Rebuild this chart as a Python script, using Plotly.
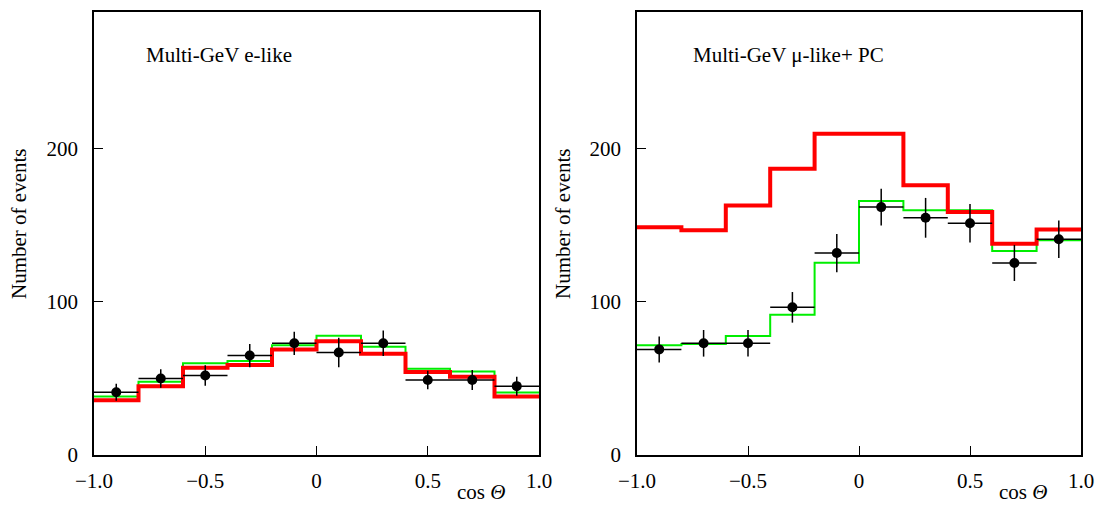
import plotly.graph_objects as go

# Zenith-angle bins (cos Theta), 10 bins from -1 to 1
bin_edges = [-1.0, -0.8, -0.6, -0.4, -0.2, 0.0, 0.2, 0.4, 0.6, 0.8, 1.0]
bin_centers = [-0.9, -0.7, -0.5, -0.3, -0.1, 0.1, 0.3, 0.5, 0.7, 0.9]
bin_half_width = 0.1

# Multi-GeV e-like
e_data = [41, 50, 52, 65, 73, 67, 73, 49, 49, 45]
e_data_err = [5.5, 6, 6.7, 7.6, 7.6, 9.6, 8.3, 6, 6.6, 6.2]
e_green = [38.2, 47.8, 60.0, 61.4, 71.7, 77.9, 70.8, 56.4, 54.5, 40.8]
e_red = [35.8, 45.0, 57.0, 58.8, 69.0, 74.3, 66.2, 54.3, 51.2, 38.2]

# Multi-GeV mu-like + PC
mu_data = [69, 73, 73, 96.5, 132, 162, 155, 151.5, 125.5, 141]
mu_data_err = [8.5, 8.7, 8.7, 10, 12.5, 12, 13, 12.6, 11.8, 12.2]
mu_green = [71.7, 72.5, 77.8, 91.7, 125.7, 166.0, 160.0, 160.0, 133.3, 140.3]
mu_red = [148.8, 146.9, 163.0, 187.0, 210.0, 210.0, 176.3, 158.8, 138.0, 147.3]

x_ticks = [-1.0, -0.5, 0.0, 0.5, 1.0]
x_tick_labels = ["\u22121.0", "\u22120.5", "0", "0.5", "1.0"]
y_ticks = [0, 100, 200]
y_tick_labels = ["0", "100", "200"]

FONT = "Liberation Serif"
FONT_SIZE = 21
GREEN = "#00ee00"
RED = "#ff0000"

fig = go.Figure()


def add_panel(fig, xref, yref, green, red, data, err):
    fig.add_trace(go.Scatter(
        x=bin_edges, y=green + [green[-1]], mode="lines", line_shape="hv",
        line=dict(color=GREEN, width=2), xaxis=xref, yaxis=yref,
        showlegend=False, hoverinfo="skip"))
    fig.add_trace(go.Scatter(
        x=bin_edges, y=red + [red[-1]], mode="lines", line_shape="hv",
        line=dict(color=RED, width=4), xaxis=xref, yaxis=yref,
        showlegend=False, hoverinfo="skip"))
    fig.add_trace(go.Scatter(
        x=bin_centers, y=data, mode="markers",
        marker=dict(color="black", size=10),
        error_x=dict(type="constant", value=bin_half_width, color="black",
                     thickness=1.5, width=0),
        error_y=dict(type="data", array=err, color="black",
                     thickness=1.5, width=0),
        xaxis=xref, yaxis=yref, showlegend=False))


add_panel(fig, "x", "y", e_green, e_red, e_data, e_data_err)
add_panel(fig, "x2", "y2", mu_green, mu_red, mu_data, mu_data_err)

axis_common = dict(
    showgrid=False, zeroline=False, showline=True, linecolor="black",
    linewidth=1.5, mirror=True, ticks="inside", ticklen=9, tickwidth=1.2,
    tickcolor="black", automargin=False,
    tickfont=dict(family=FONT, size=FONT_SIZE, color="black"),
)
x_common = dict(range=[-1, 1], tickvals=x_ticks, ticktext=x_tick_labels,
                ticklabelstandoff=6, **axis_common)
y_common = dict(range=[0, 289.5], tickvals=y_ticks, ticktext=y_tick_labels,
                ticklabelstandoff=10, **axis_common)

y_dom = [1 - 455 / 507, 1 - 12 / 507]
left_dom = [94 / 1095, 539 / 1095]
right_dom = [637 / 1095, 1081 / 1095]

fig.update_layout(
    width=1095, height=507,
    margin=dict(l=0, r=0, t=0, b=0, autoexpand=False),
    paper_bgcolor="white", plot_bgcolor="white",
    font=dict(family=FONT, color="black"),
    xaxis=dict(domain=left_dom, anchor="y", **x_common),
    yaxis=dict(domain=y_dom, anchor="x", **y_common),
    xaxis2=dict(domain=right_dom, anchor="y2", **x_common),
    yaxis2=dict(domain=y_dom, anchor="x2", **y_common),
)

annotations = [
    dict(text="Multi-GeV e-like", x=144 / 1095, y=1 - 55 / 507,
         xanchor="left", yanchor="middle"),
    dict(text="Multi-GeV \u03bc-like+ PC", x=691 / 1095, y=1 - 55 / 507,
         xanchor="left", yanchor="middle"),
    dict(text="cos <i>\u0398</i>", x=481 / 1095, y=0, yshift=1,
         xanchor="center", yanchor="bottom"),
    dict(text="cos <i>\u0398</i>", x=1023 / 1095, y=0, yshift=1,
         xanchor="center", yanchor="bottom"),
    dict(text="Number of events", x=19 / 1095, y=1 - 224 / 507,
         xanchor="center", yanchor="middle", textangle=-90),
    dict(text="Number of events", x=563 / 1095, y=1 - 224 / 507,
         xanchor="center", yanchor="middle", textangle=-90),
]
for a in annotations:
    fig.add_annotation(xref="paper", yref="paper", showarrow=False,
                       font=dict(family=FONT, size=FONT_SIZE, color="black"),
                       **a)

fig.write_html("out.html")
